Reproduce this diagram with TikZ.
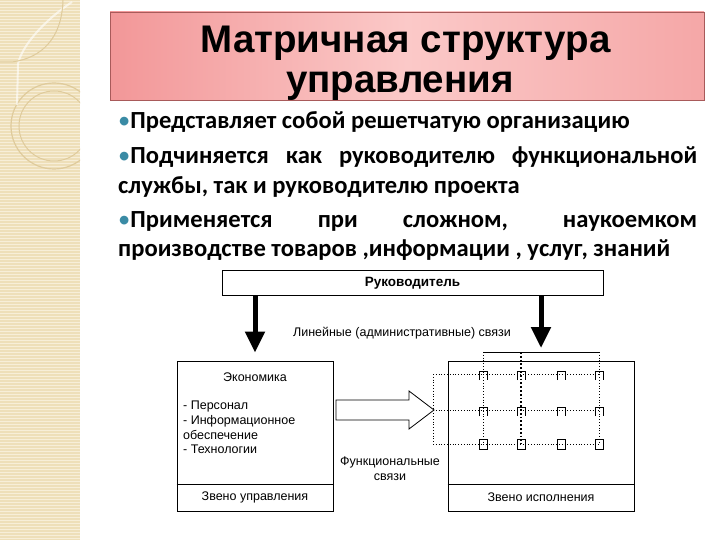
\documentclass[tikz,border=0pt]{standalone}
\usepackage{fontspec}
\setmainfont{Liberation Sans}
\newfontfamily\bodyfont{Carlito}
\usepackage{tikz}
\usetikzlibrary{arrows.meta,calc,positioning}

\definecolor{stripbg}{HTML}{EEDFB9}
\definecolor{stripln}{HTML}{F7EED8}
\definecolor{stripdk}{HTML}{DFCB9C}
\definecolor{pinkleft}{HTML}{F29798}
\definecolor{pinkright}{HTML}{F5A7A7}
\definecolor{pinkmid}{HTML}{FBC9C8}
\definecolor{pinkline}{HTML}{A85A5A}
\definecolor{bul}{HTML}{3A8BA5}

\newcommand{\blt}{{\mdseries\color{bul}\textbullet}}

\tikzset{
  box/.style={draw, line width=1pt, inner sep=0pt},
  lbl/.style={font=\fontsize{12.5}{14.7}\selectfont, inner sep=0pt},
  titleline/.style={font=\bfseries\fontsize{38.5}{40}\selectfont, anchor=base, inner sep=0pt},
  bodyline/.style={font=\bodyfont\bfseries\fontsize{24.6}{28}\selectfont, anchor=base west, inner sep=0pt},
  fatarrow/.style={line width=5pt, -{Triangle[width=19pt,length=21pt]}},
  dotline/.style={dotted, line width=0.8pt},
}

\begin{document}
\begin{tikzpicture}[x=1pt,y=-1pt]
	\useasboundingbox (0,0) rectangle (720,540);

	% left strip
	\fill[stripbg] (0,0) rectangle (80,540);
	\foreach \y in {1.5,4.5,...,540} \draw[stripln, line width=1pt] (0,\y) -- (80,\y);
	\begin{scope}
		\clip (0,0) rectangle (80,540);
		\draw[stripdk, line width=1.2pt] (54,126) circle (43);
		\draw[stripdk, line width=1pt] (54,126) circle (35);
		\draw[white, opacity=0.6, line width=2pt] (72,2) .. controls (45,20) and (22,45) .. (18,64) -- (17,105);
		\draw[stripdk, line width=1pt] (63,0) .. controls (62,38) and (42,58) .. (12,62) -- (0,62);
	\end{scope}

	% title
	\node[draw=pinkline, line width=0.8pt, left color=pinkleft, right color=pinkright, middle color=pinkmid,
		minimum width=594, minimum height=88, inner sep=0pt] (titlebox) at (407,56) {};
	\node[titleline] (title1) at (405.5,53) {Матричная структура};
	\node[titleline] (title2) at (400,93) {управления};

	% bullets
	\node[bodyline] (b1) at (118,129) {\blt Представляет собой решетчатую организацию};
	\node[bodyline] (b2) at (118,164) {\makebox[579pt][s]{\blt Подчиняется как руководителю функциональной}};
	\node[bodyline] (b3) at (118,194) {службы, так и руководителю проекта};
	\node[bodyline] (b4) at (118,227) {\makebox[579pt][s]{\blt Применяется при сложном, наукоемком}};
	\node[bodyline] (b5) at (118,256) {производстве товаров ,информации , услуг, знаний};

	% diagram
	\node[box, lbl, minimum width=381, minimum height=25] (boss) at (412.5,283) {\bfseries\fontsize{13.5}{15}\selectfont Руководитель};
	\node[lbl] (linlbl) at (402,333) {Линейные (административные) связи};

	\node[box, minimum width=156, minimum height=150] (econ) at (255,436) {};
	\draw[line width=1.8pt] ([yshift=27pt]econ.south west) -- ([yshift=27pt]econ.south east);
	\node[lbl] (econname) at (255,377) {Экономика};
	\node[lbl, anchor=north west, align=left] (econlist) at (183,401) {- Персонал\\- Информационное\\обеспечение\\- Технологии};
	\node[lbl] (econlink) at (255,497) {Звено управления};

	\node[box, minimum width=186, minimum height=150] (exec) at (541,436) {};
	\draw[line width=1.8pt] ([yshift=27pt]exec.south west) -- ([yshift=27pt]exec.south east);
	\node[lbl] (execlink) at (541,497) {Звено исполнения};

	\coordinate (brk) at (541,352);
	\draw[fatarrow, shorten >=8pt] (boss.south -| econ.north) -- (econ.north);
	\draw[fatarrow, shorten >=4pt] (boss.south -| brk) -- (brk);

	% functional links
	\draw[line width=0.8pt] (336,400) -- (409,400) -- (409,391) -- (434,410) -- (409,429) -- (409,420) -- (336,420) -- cycle;
	\node[lbl, align=center] (funclbl) at (390,469) {Функциональные\\связи};

	% grid
	\draw[line width=1pt] (483,352) -- (599,352);
	\draw[dotline] (483,352) -- (483,444);
	\draw[dotted, line width=1.8pt] (521,352) -- (521,444);
	\draw[dotline] (599,352) -- (599,444);
	\draw[dotline] (433,374) -- (433,444);
	\foreach \ry in {374,410,444} \draw[dotline] (433,\ry) -- (599,\ry);
	\foreach \cx in {483,521,561,599} {
		\foreach \ry in {374,410} \draw[line width=0.9pt] (\cx-4,\ry+6) -- (\cx-4,\ry-3) -- (\cx+4,\ry-3) -- (\cx+4,\ry+6);
		\draw[line width=0.9pt] (\cx-4,439) rectangle (\cx+4,449);
	}

\end{tikzpicture}
\end{document}
